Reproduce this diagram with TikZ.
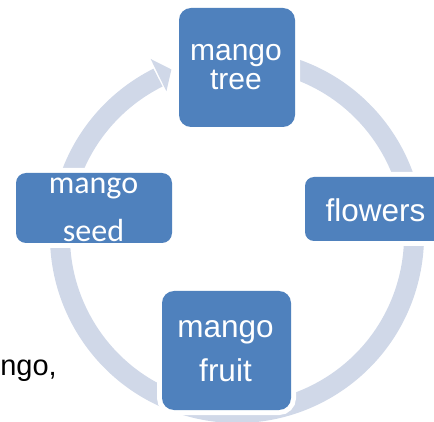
\documentclass[tikz,border=0pt]{standalone}
\usepackage{fontspec}
\setmainfont{Liberation Sans}
\newfontfamily\calibrifont{Carlito}
\usetikzlibrary{calc}
\definecolor{boxblue}{RGB}{79,129,189}
\definecolor{ringcol}{RGB}{208,216,232}
\begin{document}
\begin{tikzpicture}[x=1pt,y=1pt,
  box/.style={rectangle, fill=boxblue, inner sep=0pt, outer sep=0pt,
    preaction={draw=white, line width=10pt}},
  lbl/.style={text=white, inner sep=0pt, anchor=base},
  ringline/.style={draw=ringcol, line width=20pt}]
\useasboundingbox (0,0) rectangle (434,-422);
\clip (0,0) rectangle (434,-422);
\coordinate (c) at (237,-236);
% circular arrow
\draw[ringline] ($(c)+(75:177)$) arc[start angle=75, end angle=-243.5, radius=177];
\fill[ringcol] ($(c)+(116:197)$) -- ($(c)+(111.5:179)$) -- ($(c)+(116:161)$) -- cycle;
% boxes
\node[box, rounded corners=12pt, minimum width=116pt, minimum height=119pt] (tree) at (237,-67.5) {};
\node[box, rounded corners=9pt, minimum width=156pt, minimum height=64pt] (flowers) at (383,-209) {};
\node[box, rounded corners=10pt, minimum width=156pt, minimum height=70pt] (seed) at (94,-208) {};
\node[box, rounded corners=12pt, minimum width=129pt, minimum height=119pt] (fruit) at (226.5,-350.5) {};
% labels
\node[lbl, font=\fontsize{30}{30}\selectfont] (treeA) at (236,-61) {mango};
\node[lbl, font=\fontsize{30}{30}\selectfont] (treeB) at (236,-90) {tree};
\node[lbl, font=\fontsize{31.5}{31.5}\selectfont] (flowersA) at (375.5,-222) {flowers};
\node[lbl, font=\calibrifont\fontsize{32}{32}\selectfont] (seedA) at (93.5,-194) {mango};
\node[lbl, font=\calibrifont\fontsize{32}{32}\selectfont] (seedB) at (93.5,-242) {seed};
\node[lbl, font=\fontsize{31.5}{31.5}\selectfont] (fruitA) at (225.5,-337.3) {mango};
\node[lbl, font=\fontsize{31.5}{31.5}\selectfont] (fruitB) at (225.5,-381) {fruit};
\node[inner sep=0pt, anchor=base east, text=black, font=\fontsize{29}{29}\selectfont] (ngo) at (57,-375.5) {ngo,};
\end{tikzpicture}
\end{document}
